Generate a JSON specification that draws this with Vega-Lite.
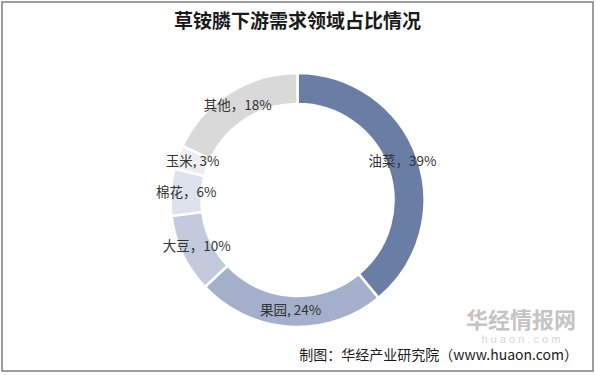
{
  "$schema": "https://vega.github.io/schema/vega-lite/v6.json",
  "width": 596,
  "height": 375,
  "autosize": {"type": "fit", "contains": "padding"},
  "padding": {"left": 2, "top": 2, "right": 3, "bottom": 4},
  "background": "white",
  "view": {"stroke": "#7f7f7f", "strokeWidth": 1.5, "fill": "white"},
  "title": {
    "text": "草铵膦下游需求领域占比情况",
    "font": "Noto Sans CJK SC",
    "fontSize": 19,
    "fontWeight": "bold",
    "color": "#1a1a1a",
    "anchor": "middle",
    "frame": "group",
    "offset": -30
  },
  "data": {
    "values": [
      {"name": "油菜", "value": 39, "order": 1, "label": "油菜，39%"},
      {"name": "果园", "value": 24, "order": 2, "label": "果园, 24%"},
      {"name": "大豆", "value": 10, "order": 3, "label": "大豆，10%"},
      {"name": "棉花", "value": 6, "order": 4, "label": "棉花，6%"},
      {"name": "玉米", "value": 3, "order": 5, "label": "玉米, 3%"},
      {"name": "其他", "value": 18, "order": 6, "label": "其他，18%"}
    ]
  },
  "layer": [
    {
      "mark": {"type": "arc", "innerRadius": 96, "outerRadius": 127, "stroke": "white", "strokeWidth": 2.5, "yOffset": 13.5},
      "encoding": {
        "theta": {"field": "value", "type": "quantitative", "stack": true},
        "order": {"field": "order", "type": "quantitative"},
        "color": {
          "field": "name",
          "type": "nominal",
          "scale": {
            "domain": ["油菜", "果园", "大豆", "棉花", "玉米", "其他"],
            "range": ["#6a7ea5", "#a4b0cb", "#c3cadb", "#dde2ec", "#eceef2", "#d9d9d9"]
          },
          "legend": null
        }
      }
    },
    {
      "mark": {"type": "text", "radius": 111.5, "yOffset": 13.5, "font": "Noto Sans CJK SC", "fontSize": 13.5, "color": "#333333"},
      "encoding": {
        "theta": {"field": "value", "type": "quantitative", "stack": true},
        "order": {"field": "order", "type": "quantitative"},
        "text": {"field": "label", "type": "nominal"}
      }
    },
    {
      "data": {"values": [{"t": "华经情报网"}]},
      "mark": {"type": "text", "x": {"expr": "width-72"}, "y": {"expr": "height-50"}, "align": "center", "baseline": "middle", "font": "Noto Sans CJK SC", "fontSize": 22, "fontWeight": "bold", "color": "#c4c4c4"},
      "encoding": {"text": {"field": "t", "type": "nominal"}}
    },
    {
      "data": {"values": [{"t": "h u a o n . c o m"}]},
      "mark": {"type": "text", "x": {"expr": "width-72"}, "y": {"expr": "height-31"}, "align": "center", "baseline": "middle", "font": "Liberation Sans", "fontSize": 11, "color": "#d6d6d6"},
      "encoding": {"text": {"field": "t", "type": "nominal"}}
    },
    {
      "data": {"values": [{"t": "制图：华经产业研究院（www.huaon.com）"}]},
      "mark": {"type": "text", "x": {"expr": "width-15"}, "y": {"expr": "height-15"}, "align": "right", "baseline": "middle", "font": "Noto Sans CJK SC", "fontSize": 14, "color": "#1a1a1a"},
      "encoding": {"text": {"field": "t", "type": "nominal"}}
    }
  ]
}
